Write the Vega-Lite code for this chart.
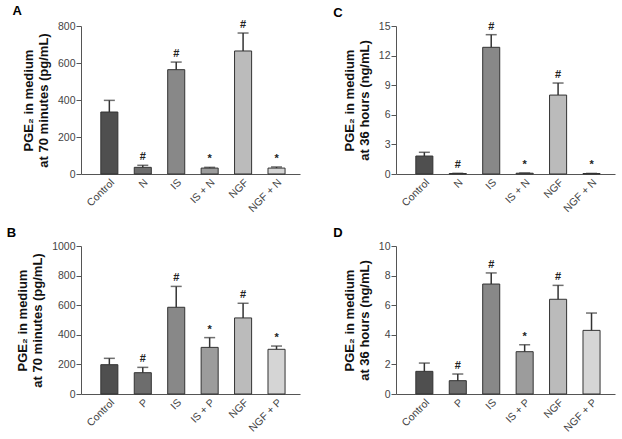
{
  "$schema": "https://vega.github.io/schema/vega-lite/v6.json",
  "padding": {"left": 6, "top": 5, "right": 2, "bottom": 2},
  "background": "white",
  "datasets": {
    "pge": [
      {"panel": "A", "group": "Control", "value": 335, "err": 398, "sig": ""},
      {"panel": "A", "group": "N", "value": 36, "err": 47, "sig": "#"},
      {"panel": "A", "group": "IS", "value": 564, "err": 605, "sig": "#"},
      {"panel": "A", "group": "IS + N", "value": 32, "err": 36, "sig": "*"},
      {"panel": "A", "group": "NGF", "value": 665, "err": 762, "sig": "#"},
      {"panel": "A", "group": "NGF + N", "value": 32, "err": 38, "sig": "*"},
      {"panel": "C", "group": "Control", "value": 1.82, "err": 2.2, "sig": ""},
      {"panel": "C", "group": "N", "value": 0.05, "err": 0.07, "sig": "#"},
      {"panel": "C", "group": "IS", "value": 12.84, "err": 14.12, "sig": "#"},
      {"panel": "C", "group": "IS + N", "value": 0.08, "err": 0.1, "sig": "*"},
      {"panel": "C", "group": "NGF", "value": 8.0, "err": 9.22, "sig": "#"},
      {"panel": "C", "group": "NGF + N", "value": 0.05, "err": 0.06, "sig": "*"},
      {"panel": "B", "group": "Control", "value": 198, "err": 241, "sig": ""},
      {"panel": "B", "group": "P", "value": 144, "err": 180, "sig": "#"},
      {"panel": "B", "group": "IS", "value": 586, "err": 727, "sig": "#"},
      {"panel": "B", "group": "IS + P", "value": 315, "err": 381, "sig": "*"},
      {"panel": "B", "group": "NGF", "value": 514, "err": 613, "sig": "#"},
      {"panel": "B", "group": "NGF + P", "value": 302, "err": 324, "sig": "*"},
      {"panel": "D", "group": "Control", "value": 1.53, "err": 2.09, "sig": ""},
      {"panel": "D", "group": "P", "value": 0.9, "err": 1.35, "sig": "#"},
      {"panel": "D", "group": "IS", "value": 7.43, "err": 8.18, "sig": "#"},
      {"panel": "D", "group": "IS + P", "value": 2.86, "err": 3.33, "sig": "*"},
      {"panel": "D", "group": "NGF", "value": 6.4, "err": 7.34, "sig": "#"},
      {"panel": "D", "group": "NGF + P", "value": 4.3, "err": 5.47, "sig": ""}
    ]
  },
  "columns": 2,
  "spacing": {"row": 13, "column": 33},
  "concat": [
    {
      "title": {"text": "A"},
      "width": 219, "height": 148,
      "data": {"name": "pge"},
      "transform": [{"filter": "datum.panel === 'A'"}],
      "encoding": {"x": {"field": "group", "type": "nominal", "sort": ["Control", "N", "IS", "IS + N", "NGF", "NGF + N"], "scale": {"paddingInner": 0.49, "paddingOuter": 0.52, "align": 0.57}, "axis": {"title": null}}},
      "layer": [
        {"mark": {"type": "bar", "stroke": "#333333", "strokeWidth": 1}, "encoding": {"y": {"field": "value", "type": "quantitative", "scale": {"domain": [0, 800], "nice": false}, "axis": {"values": [0, 200, 400, 600, 800], "format": "d", "title": ["PGE₂ in medium", "at 70 minutes (pg/mL)"]}}, "color": {"field": "group", "type": "nominal", "scale": {"domain": ["Control", "N", "P", "IS", "IS + N", "IS + P", "NGF", "NGF + N", "NGF + P"], "range": ["#4f4f4f", "#6d6d6d", "#6d6d6d", "#888888", "#9c9c9c", "#9c9c9c", "#bbbbbb", "#d5d5d5", "#d5d5d5"]}, "legend": null}}},
        {"mark": {"type": "rule", "color": "#333333", "strokeWidth": 1.5}, "encoding": {"y": {"field": "value", "type": "quantitative", "scale": {"domain": [0, 800], "nice": false}, "axis": {"values": [0, 200, 400, 600, 800], "format": "d", "title": ["PGE₂ in medium", "at 70 minutes (pg/mL)"]}}, "y2": {"field": "err"}}},
        {"mark": {"type": "tick", "color": "#333333", "thickness": 1.5, "size": 11}, "encoding": {"y": {"field": "err", "type": "quantitative", "scale": {"domain": [0, 800], "nice": false}, "axis": {"values": [0, 200, 400, 600, 800], "format": "d", "title": ["PGE₂ in medium", "at 70 minutes (pg/mL)"]}}}},
        {"mark": {"type": "text", "dy": -5, "baseline": "alphabetic", "fontSize": 11, "fontWeight": "bold", "font": "Liberation Sans", "color": "#222222"}, "encoding": {"y": {"field": "err", "type": "quantitative", "scale": {"domain": [0, 800], "nice": false}, "axis": {"values": [0, 200, 400, 600, 800], "format": "d", "title": ["PGE₂ in medium", "at 70 minutes (pg/mL)"]}}, "text": {"field": "sig"}}}
      ]
    },
    {
      "title": {"text": "C"},
      "width": 219, "height": 148,
      "data": {"name": "pge"},
      "transform": [{"filter": "datum.panel === 'C'"}],
      "encoding": {"x": {"field": "group", "type": "nominal", "sort": ["Control", "N", "IS", "IS + N", "NGF", "NGF + N"], "scale": {"paddingInner": 0.49, "paddingOuter": 0.52, "align": 0.57}, "axis": {"title": null}}},
      "layer": [
        {"mark": {"type": "bar", "stroke": "#333333", "strokeWidth": 1}, "encoding": {"y": {"field": "value", "type": "quantitative", "scale": {"domain": [0, 15], "nice": false}, "axis": {"values": [0, 3, 6, 9, 12, 15], "format": "d", "title": ["PGE₂ in medium", "at 36 hours (ng/mL)"]}}, "color": {"field": "group", "type": "nominal", "scale": {"domain": ["Control", "N", "P", "IS", "IS + N", "IS + P", "NGF", "NGF + N", "NGF + P"], "range": ["#4f4f4f", "#6d6d6d", "#6d6d6d", "#888888", "#9c9c9c", "#9c9c9c", "#bbbbbb", "#d5d5d5", "#d5d5d5"]}, "legend": null}}},
        {"mark": {"type": "rule", "color": "#333333", "strokeWidth": 1.5}, "encoding": {"y": {"field": "value", "type": "quantitative", "scale": {"domain": [0, 15], "nice": false}, "axis": {"values": [0, 3, 6, 9, 12, 15], "format": "d", "title": ["PGE₂ in medium", "at 36 hours (ng/mL)"]}}, "y2": {"field": "err"}}},
        {"mark": {"type": "tick", "color": "#333333", "thickness": 1.5, "size": 11}, "encoding": {"y": {"field": "err", "type": "quantitative", "scale": {"domain": [0, 15], "nice": false}, "axis": {"values": [0, 3, 6, 9, 12, 15], "format": "d", "title": ["PGE₂ in medium", "at 36 hours (ng/mL)"]}}}},
        {"mark": {"type": "text", "dy": -5, "baseline": "alphabetic", "fontSize": 11, "fontWeight": "bold", "font": "Liberation Sans", "color": "#222222"}, "encoding": {"y": {"field": "err", "type": "quantitative", "scale": {"domain": [0, 15], "nice": false}, "axis": {"values": [0, 3, 6, 9, 12, 15], "format": "d", "title": ["PGE₂ in medium", "at 36 hours (ng/mL)"]}}, "text": {"field": "sig"}}}
      ]
    },
    {
      "title": {"text": "B"},
      "width": 219, "height": 148,
      "data": {"name": "pge"},
      "transform": [{"filter": "datum.panel === 'B'"}],
      "encoding": {"x": {"field": "group", "type": "nominal", "sort": ["Control", "P", "IS", "IS + P", "NGF", "NGF + P"], "scale": {"paddingInner": 0.49, "paddingOuter": 0.52, "align": 0.57}, "axis": {"title": null}}},
      "layer": [
        {"mark": {"type": "bar", "stroke": "#333333", "strokeWidth": 1}, "encoding": {"y": {"field": "value", "type": "quantitative", "scale": {"domain": [0, 1000], "nice": false}, "axis": {"values": [0, 200, 400, 600, 800, 1000], "format": "d", "title": ["PGE₂ in medium", "at 70 minutes (pg/mL)"]}}, "color": {"field": "group", "type": "nominal", "scale": {"domain": ["Control", "N", "P", "IS", "IS + N", "IS + P", "NGF", "NGF + N", "NGF + P"], "range": ["#4f4f4f", "#6d6d6d", "#6d6d6d", "#888888", "#9c9c9c", "#9c9c9c", "#bbbbbb", "#d5d5d5", "#d5d5d5"]}, "legend": null}}},
        {"mark": {"type": "rule", "color": "#333333", "strokeWidth": 1.5}, "encoding": {"y": {"field": "value", "type": "quantitative", "scale": {"domain": [0, 1000], "nice": false}, "axis": {"values": [0, 200, 400, 600, 800, 1000], "format": "d", "title": ["PGE₂ in medium", "at 70 minutes (pg/mL)"]}}, "y2": {"field": "err"}}},
        {"mark": {"type": "tick", "color": "#333333", "thickness": 1.5, "size": 11}, "encoding": {"y": {"field": "err", "type": "quantitative", "scale": {"domain": [0, 1000], "nice": false}, "axis": {"values": [0, 200, 400, 600, 800, 1000], "format": "d", "title": ["PGE₂ in medium", "at 70 minutes (pg/mL)"]}}}},
        {"mark": {"type": "text", "dy": -5, "baseline": "alphabetic", "fontSize": 11, "fontWeight": "bold", "font": "Liberation Sans", "color": "#222222"}, "encoding": {"y": {"field": "err", "type": "quantitative", "scale": {"domain": [0, 1000], "nice": false}, "axis": {"values": [0, 200, 400, 600, 800, 1000], "format": "d", "title": ["PGE₂ in medium", "at 70 minutes (pg/mL)"]}}, "text": {"field": "sig"}}}
      ]
    },
    {
      "title": {"text": "D"},
      "width": 219, "height": 148,
      "data": {"name": "pge"},
      "transform": [{"filter": "datum.panel === 'D'"}],
      "encoding": {"x": {"field": "group", "type": "nominal", "sort": ["Control", "P", "IS", "IS + P", "NGF", "NGF + P"], "scale": {"paddingInner": 0.49, "paddingOuter": 0.52, "align": 0.57}, "axis": {"title": null}}},
      "layer": [
        {"mark": {"type": "bar", "stroke": "#333333", "strokeWidth": 1}, "encoding": {"y": {"field": "value", "type": "quantitative", "scale": {"domain": [0, 10], "nice": false}, "axis": {"values": [0, 2, 4, 6, 8, 10], "format": "d", "title": ["PGE₂ in medium", "at 36 hours (ng/mL)"]}}, "color": {"field": "group", "type": "nominal", "scale": {"domain": ["Control", "N", "P", "IS", "IS + N", "IS + P", "NGF", "NGF + N", "NGF + P"], "range": ["#4f4f4f", "#6d6d6d", "#6d6d6d", "#888888", "#9c9c9c", "#9c9c9c", "#bbbbbb", "#d5d5d5", "#d5d5d5"]}, "legend": null}}},
        {"mark": {"type": "rule", "color": "#333333", "strokeWidth": 1.5}, "encoding": {"y": {"field": "value", "type": "quantitative", "scale": {"domain": [0, 10], "nice": false}, "axis": {"values": [0, 2, 4, 6, 8, 10], "format": "d", "title": ["PGE₂ in medium", "at 36 hours (ng/mL)"]}}, "y2": {"field": "err"}}},
        {"mark": {"type": "tick", "color": "#333333", "thickness": 1.5, "size": 11}, "encoding": {"y": {"field": "err", "type": "quantitative", "scale": {"domain": [0, 10], "nice": false}, "axis": {"values": [0, 2, 4, 6, 8, 10], "format": "d", "title": ["PGE₂ in medium", "at 36 hours (ng/mL)"]}}}},
        {"mark": {"type": "text", "dy": -5, "baseline": "alphabetic", "fontSize": 11, "fontWeight": "bold", "font": "Liberation Sans", "color": "#222222"}, "encoding": {"y": {"field": "err", "type": "quantitative", "scale": {"domain": [0, 10], "nice": false}, "axis": {"values": [0, 2, 4, 6, 8, 10], "format": "d", "title": ["PGE₂ in medium", "at 36 hours (ng/mL)"]}}, "text": {"field": "sig"}}}
      ]
    }
  ],
  "resolve": {"scale": {"color": "independent"}},
  "config": {
    "view": {"stroke": null},
    "font": "Liberation Sans",
    "title": {"anchor": "start", "frame": "bounds", "fontSize": 13, "fontWeight": "bold", "font": "Liberation Sans", "color": "#000000", "dx": -10, "offset": 1},
    "axis": {"grid": false, "domainColor": "#555555", "domainWidth": 1, "tickColor": "#555555", "tickSize": 5, "labelFont": "Liberation Sans", "labelFontSize": 10.5, "labelColor": "#444444", "titleFont": "Liberation Sans", "titleFontSize": 13, "titleFontWeight": "bold", "titleColor": "#111111", "titlePadding": 7},
    "axisX": {"ticks": false, "labelAngle": -45, "labelPadding": 3},
    "axisY": {"labelPadding": 1}
  }
}
